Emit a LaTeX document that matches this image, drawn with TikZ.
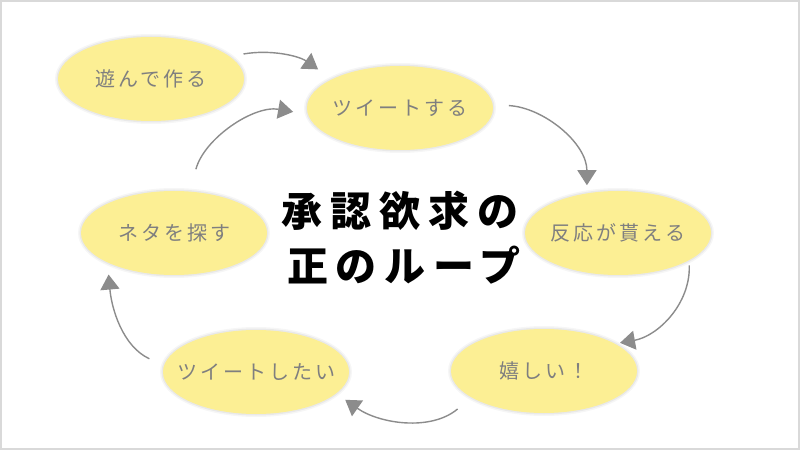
\documentclass[tikz,border=0pt]{standalone}
\usepackage{fontspec}
\newfontfamily\jp{Noto Sans CJK JP}
\usetikzlibrary{arrows.meta,shapes.geometric}
\definecolor{bub}{HTML}{FCEF94}
\definecolor{txt}{HTML}{7F7F7F}
\definecolor{arr}{HTML}{8C8C8C}
\definecolor{frame}{HTML}{D9D9D9}
\newcommand{\bt}[1]{\makebox[0pt]{#1}}
\begin{document}
\begin{tikzpicture}[x=1pt,y=1pt,
  bubble/.style={ellipse, fill=bub, minimum width=186pt, minimum height=84pt, inner sep=0pt,
    font=\jp\fontsize{20}{20}\selectfont\addfontfeatures{LetterSpace=15}, text=txt,
    preaction={draw=black, draw opacity=0.035, line width=6pt},
    preaction={draw=black, draw opacity=0.05, line width=3pt}},
  titletext/.style={font=\jp\bfseries\fontsize{41}{41}\selectfont\addfontfeatures{LetterSpace=19}, text=black, inner sep=0pt},
  conn/.style={draw=arr, line width=1.4pt, -{Triangle[length=15pt,width=19pt]}}]
\fill[white] (0,0) rectangle (800,450);
\draw[frame, line width=1.5pt] (1,1) rectangle (799,449);
\useasboundingbox (0,0) rectangle (800,450);

\node[bubble] (A) at (151,371) {\bt{遊んで作る}};
\node[bubble] (B) at (400,342) {\bt{ツイートする}};
\node[bubble] (C) at (618,217) {\bt{反応が貰える}};
\node[bubble] (D) at (544,79) {\bt{嬉しい！}};
\node[bubble] (E) at (256,78) {\bt{ツイートしたい}};
\node[bubble] (F) at (174,217) {\bt{ネタを探す}};

\node[titletext] (T1) at (400,239.5) {承認欲求の};
\node[titletext] (T2) at (404,185) {正のループ};

\draw[conn, shorten <=14pt, shorten >=17pt] (A.16) to[out=10,in=145] (B.157);
\draw[conn, shorten <=23pt, shorten >=15pt] (F.69) to[out=75,in=170] (B.184);
\draw[conn, shorten <=16pt, shorten >=8pt] (B.2) to[out=-3,in=90] (C.128);
\draw[conn, shorten <=5pt, shorten >=5pt] (C.-21) to[out=-88,in=10] (D.21);
\draw[conn, shorten <=18pt, shorten >=11pt] (D.200) to[out=220,in=-35] (E.-15);
\draw[conn, shorten <=16pt, shorten >=12pt] (E.176) to[out=155,in=-85] (F.204);
\end{tikzpicture}
\end{document}
